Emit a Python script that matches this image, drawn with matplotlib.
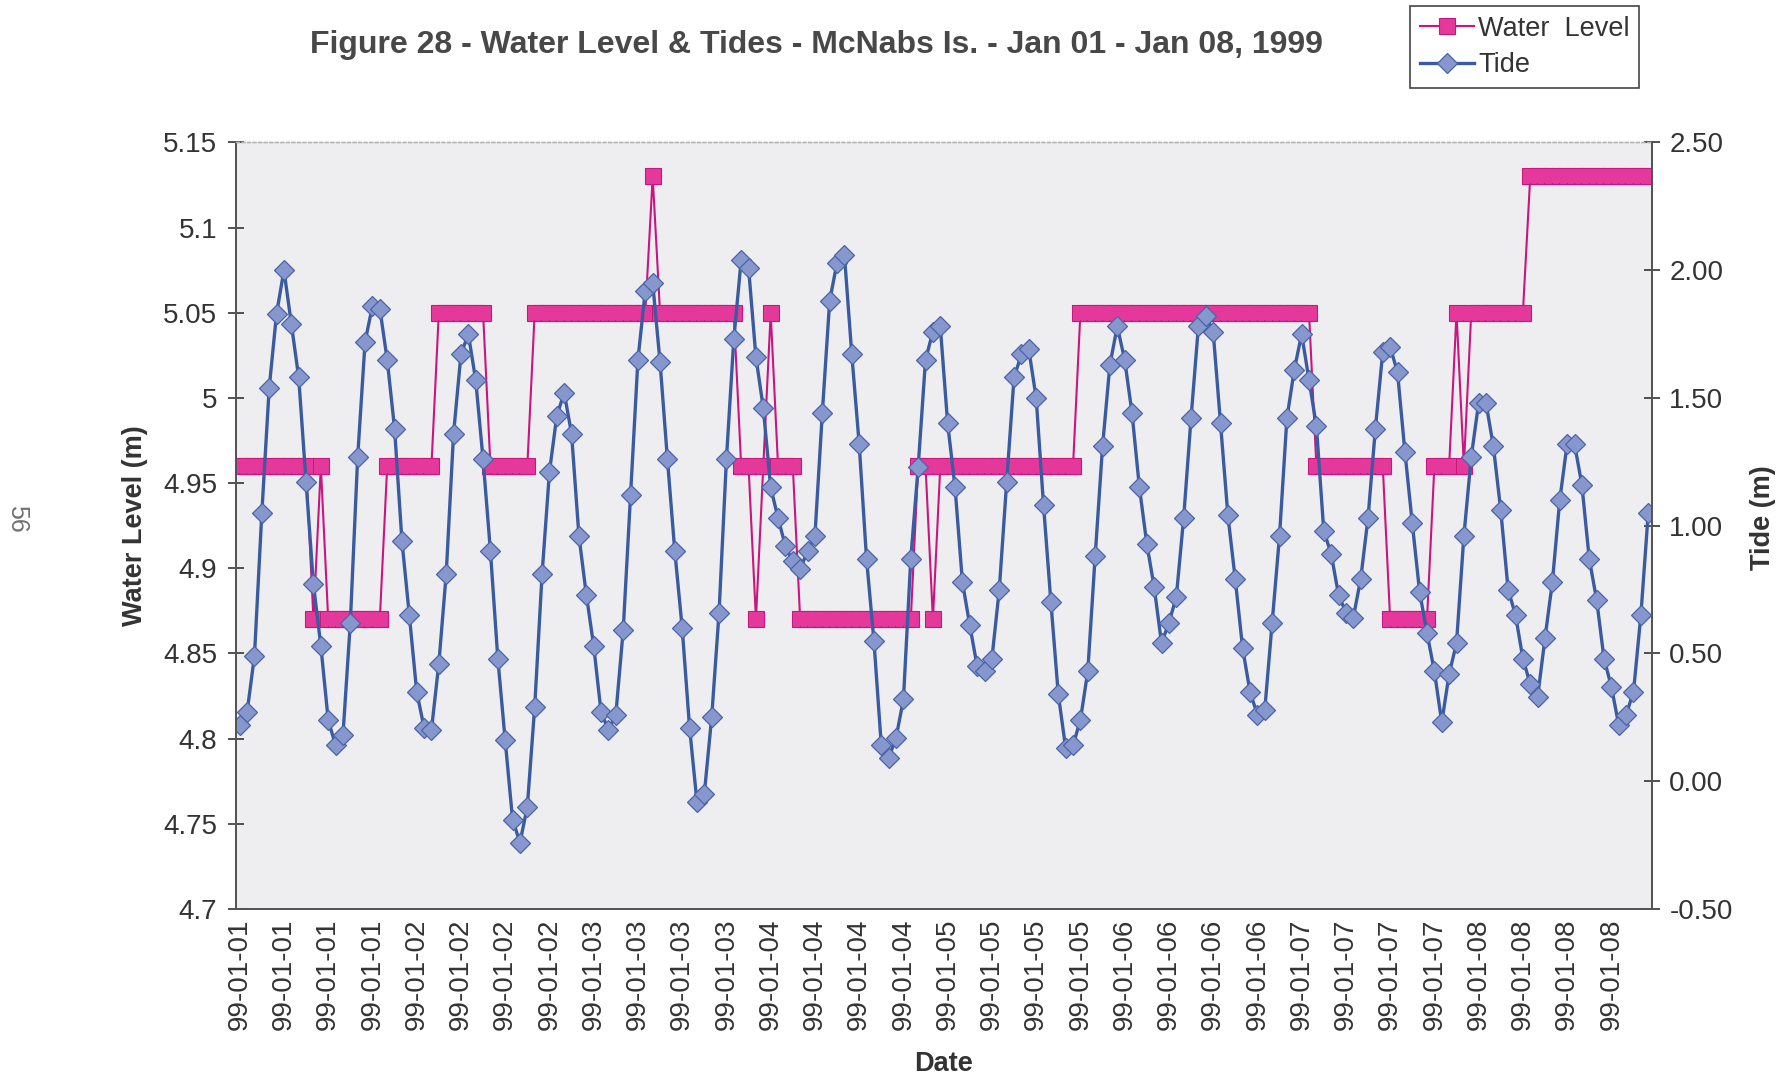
import matplotlib
matplotlib.use("Agg")
import matplotlib.pyplot as plt
from matplotlib.ticker import FixedLocator, FuncFormatter, MultipleLocator

plt.rcParams["font.family"] = ["Liberation Sans", "DejaVu Sans"]

# Hourly readings, Jan 01 00:00 through Jan 08 23:00 (one row of 12 per half day)
water_level = [
    4.96, 4.96, 4.96, 4.96, 4.96, 4.96, 4.96, 4.96, 4.96, 4.96, 4.87, 4.96,
    4.87, 4.87, 4.87, 4.87, 4.87, 4.87, 4.87, 4.87, 4.96, 4.96, 4.96, 4.96,
    4.96, 4.96, 4.96, 5.05, 5.05, 5.05, 5.05, 5.05, 5.05, 5.05, 4.96, 4.96,
    4.96, 4.96, 4.96, 4.96, 5.05, 5.05, 5.05, 5.05, 5.05, 5.05, 5.05, 5.05,
    5.05, 5.05, 5.05, 5.05, 5.05, 5.05, 5.05, 5.05, 5.13, 5.05, 5.05, 5.05,
    5.05, 5.05, 5.05, 5.05, 5.05, 5.05, 5.05, 5.05, 4.96, 4.96, 4.87, 4.96,
    5.05, 4.96, 4.96, 4.96, 4.87, 4.87, 4.87, 4.87, 4.87, 4.87, 4.87, 4.87,
    4.87, 4.87, 4.87, 4.87, 4.87, 4.87, 4.87, 4.87, 4.96, 4.96, 4.87, 4.96,
    4.96, 4.96, 4.96, 4.96, 4.96, 4.96, 4.96, 4.96, 4.96, 4.96, 4.96, 4.96,
    4.96, 4.96, 4.96, 4.96, 4.96, 4.96, 5.05, 5.05, 5.05, 5.05, 5.05, 5.05,
    5.05, 5.05, 5.05, 5.05, 5.05, 5.05, 5.05, 5.05, 5.05, 5.05, 5.05, 5.05,
    5.05, 5.05, 5.05, 5.05, 5.05, 5.05, 5.05, 5.05, 5.05, 5.05, 5.05, 5.05,
    5.05, 5.05, 4.96, 4.96, 4.96, 4.96, 4.96, 4.96, 4.96, 4.96, 4.96, 4.96,
    4.87, 4.87, 4.87, 4.87, 4.87, 4.87, 4.96, 4.96, 4.96, 5.05, 4.96, 5.05,
    5.05, 5.05, 5.05, 5.05, 5.05, 5.05, 5.05, 5.13, 5.13, 5.13, 5.13, 5.13,
    5.13, 5.13, 5.13, 5.13, 5.13, 5.13, 5.13, 5.13, 5.13, 5.13, 5.13, 5.13,
]

tide = [
    0.22, 0.27, 0.49, 1.05, 1.54, 1.83, 2.00, 1.79, 1.58, 1.17, 0.77, 0.53,
    0.24, 0.14, 0.18, 0.62, 1.27, 1.72, 1.86, 1.85, 1.65, 1.38, 0.94, 0.65,
    0.35, 0.21, 0.20, 0.46, 0.81, 1.36, 1.67, 1.75, 1.57, 1.26, 0.90, 0.48,
    0.16, -0.15, -0.24, -0.10, 0.29, 0.81, 1.21, 1.43, 1.52, 1.36, 0.96, 0.73,
    0.53, 0.27, 0.20, 0.26, 0.59, 1.12, 1.65, 1.92, 1.95, 1.64, 1.26, 0.90,
    0.60, 0.21, -0.08, -0.05, 0.25, 0.66, 1.26, 1.73, 2.04, 2.01, 1.66, 1.46,
    1.15, 1.03, 0.92, 0.86, 0.83, 0.90, 0.96, 1.44, 1.88, 2.03, 2.06, 1.67,
    1.32, 0.87, 0.55, 0.14, 0.09, 0.17, 0.32, 0.87, 1.23, 1.65, 1.76, 1.78,
    1.40, 1.15, 0.78, 0.61, 0.45, 0.43, 0.48, 0.75, 1.17, 1.58, 1.67, 1.69,
    1.50, 1.08, 0.70, 0.34, 0.13, 0.14, 0.24, 0.43, 0.88, 1.31, 1.63, 1.78,
    1.65, 1.44, 1.15, 0.93, 0.76, 0.54, 0.62, 0.72, 1.03, 1.42, 1.78, 1.82,
    1.76, 1.40, 1.04, 0.79, 0.52, 0.35, 0.26, 0.28, 0.62, 0.96, 1.42, 1.61,
    1.75, 1.57, 1.39, 0.98, 0.89, 0.73, 0.66, 0.64, 0.79, 1.03, 1.38, 1.68,
    1.70, 1.60, 1.29, 1.01, 0.74, 0.58, 0.43, 0.23, 0.42, 0.54, 0.96, 1.27,
    1.48, 1.48, 1.31, 1.06, 0.75, 0.65, 0.48, 0.38, 0.33, 0.56, 0.78, 1.10,
    1.32, 1.32, 1.16, 0.87, 0.71, 0.48, 0.37, 0.22, 0.26, 0.35, 0.65, 1.05,
]

day_labels = ["99-01-01", "99-01-02", "99-01-03", "99-01-04",
              "99-01-05", "99-01-06", "99-01-07", "99-01-08"]
labels_per_day = 4  # one date label every 6 hours

WL_COLOR = "#c8157f"
WL_FACE = "#e5389b"
TIDE_COLOR = "#3b5ba0"
TIDE_FACE = "#8597cc"
TEXT_COLOR = "#333333"

hours = list(range(len(tide)))
step = 24 // labels_per_day
tick_pos = hours[::step]
tick_text = [d for d in day_labels for _ in range(labels_per_day)]

fig = plt.figure(figsize=(17.88, 10.79), dpi=100)
ax = fig.add_axes([0.1320, 0.1576, 0.7919, 0.7104])
ax.set_facecolor("#eeeef1")
ax2 = ax.twinx()

# water level: line with outlined squares, then a fill-only layer on top so
# runs of equal readings merge into one solid bar
(wl_line,) = ax.plot(hours, water_level, color=WL_COLOR, linewidth=1.5,
                     marker="s", markersize=11, markerfacecolor=WL_FACE,
                     markeredgecolor=WL_COLOR, markeredgewidth=0.8,
                     label="Water  Level")
ax.plot(hours, water_level, linestyle="none", marker="s", markersize=10.2,
        markerfacecolor=WL_FACE, markeredgewidth=0)

(tide_line,) = ax2.plot(hours, tide, color=TIDE_COLOR, linewidth=2.4,
                        marker="D", markersize=10.5, markerfacecolor=TIDE_FACE,
                        markeredgecolor="#4c62a8", markeredgewidth=0.9,
                        label="Tide")

ax.set_xlim(-0.5, len(hours) - 0.5)
ax.set_ylim(4.7, 5.15)
ax2.set_ylim(-0.5, 2.5)

ax.yaxis.set_major_locator(MultipleLocator(0.05))
ax.yaxis.set_major_formatter(FuncFormatter(lambda v, _: f"{round(v, 2):g}"))
ax2.yaxis.set_major_locator(MultipleLocator(0.5))
ax2.yaxis.set_major_formatter(FuncFormatter(lambda v, _: f"{v:.2f}"))

ax.xaxis.set_major_locator(FixedLocator(tick_pos))
ax.set_xticklabels(tick_text, rotation=90, ha="center", va="top")

ax.tick_params(axis="x", length=0, pad=7, labelsize=20, colors=TEXT_COLOR)
ax.tick_params(axis="y", direction="inout", length=11, width=1.2, pad=8,
               labelsize=20, colors=TEXT_COLOR)
ax2.tick_params(axis="y", direction="inout", length=11, width=1.2, pad=7,
                labelsize=20, colors=TEXT_COLOR)

for spine_ax in (ax, ax2):
    spine_ax.spines["top"].set_color("#b5b5b5")
    spine_ax.spines["top"].set_linestyle((0, (2, 2)))
    spine_ax.spines["top"].set_linewidth(1.0)
    for side in ("left", "right", "bottom"):
        spine_ax.spines[side].set_color("#555555")
        spine_ax.spines[side].set_linewidth(1.4)

label_font = dict(fontsize=19.5, fontweight="bold", color=TEXT_COLOR)
ax.set_ylabel("Water Level (m)", **label_font)
ax.yaxis.set_label_coords(-0.062, 0.5)
ax2.set_ylabel("Tide (m)", rotation=90, **label_font)
ax2.yaxis.set_label_coords(1.069, 0.51)
ax.set_xlabel("Date", **label_font)
ax.xaxis.set_label_coords(0.5, -0.185)

fig.text(0.4564, 0.958,
         "Figure 28 - Water Level & Tides - McNabs Is. - Jan 01 - Jan 08, 1999",
         ha="center", va="center", fontsize=23, fontweight="bold",
         color="#484848")

# page number printed sideways in the margin
fig.text(0.0095, 0.519, "56", rotation=-90, ha="center", va="center",
         fontsize=18, color="#707070")

leg = fig.legend(handles=[wl_line, tide_line], loc="upper right",
                 bbox_to_anchor=(0.9167, 0.9944), fontsize=19.5,
                 frameon=True, fancybox=False, framealpha=1.0,
                 edgecolor="#444444", handlelength=2.0, handletextpad=0.15,
                 labelspacing=0.4, borderpad=0.35, borderaxespad=0.0)
leg.get_frame().set_linewidth(1.2)
for txt in leg.get_texts():
    txt.set_color(TEXT_COLOR)

fig.savefig("out.png", dpi=100, facecolor="white")
